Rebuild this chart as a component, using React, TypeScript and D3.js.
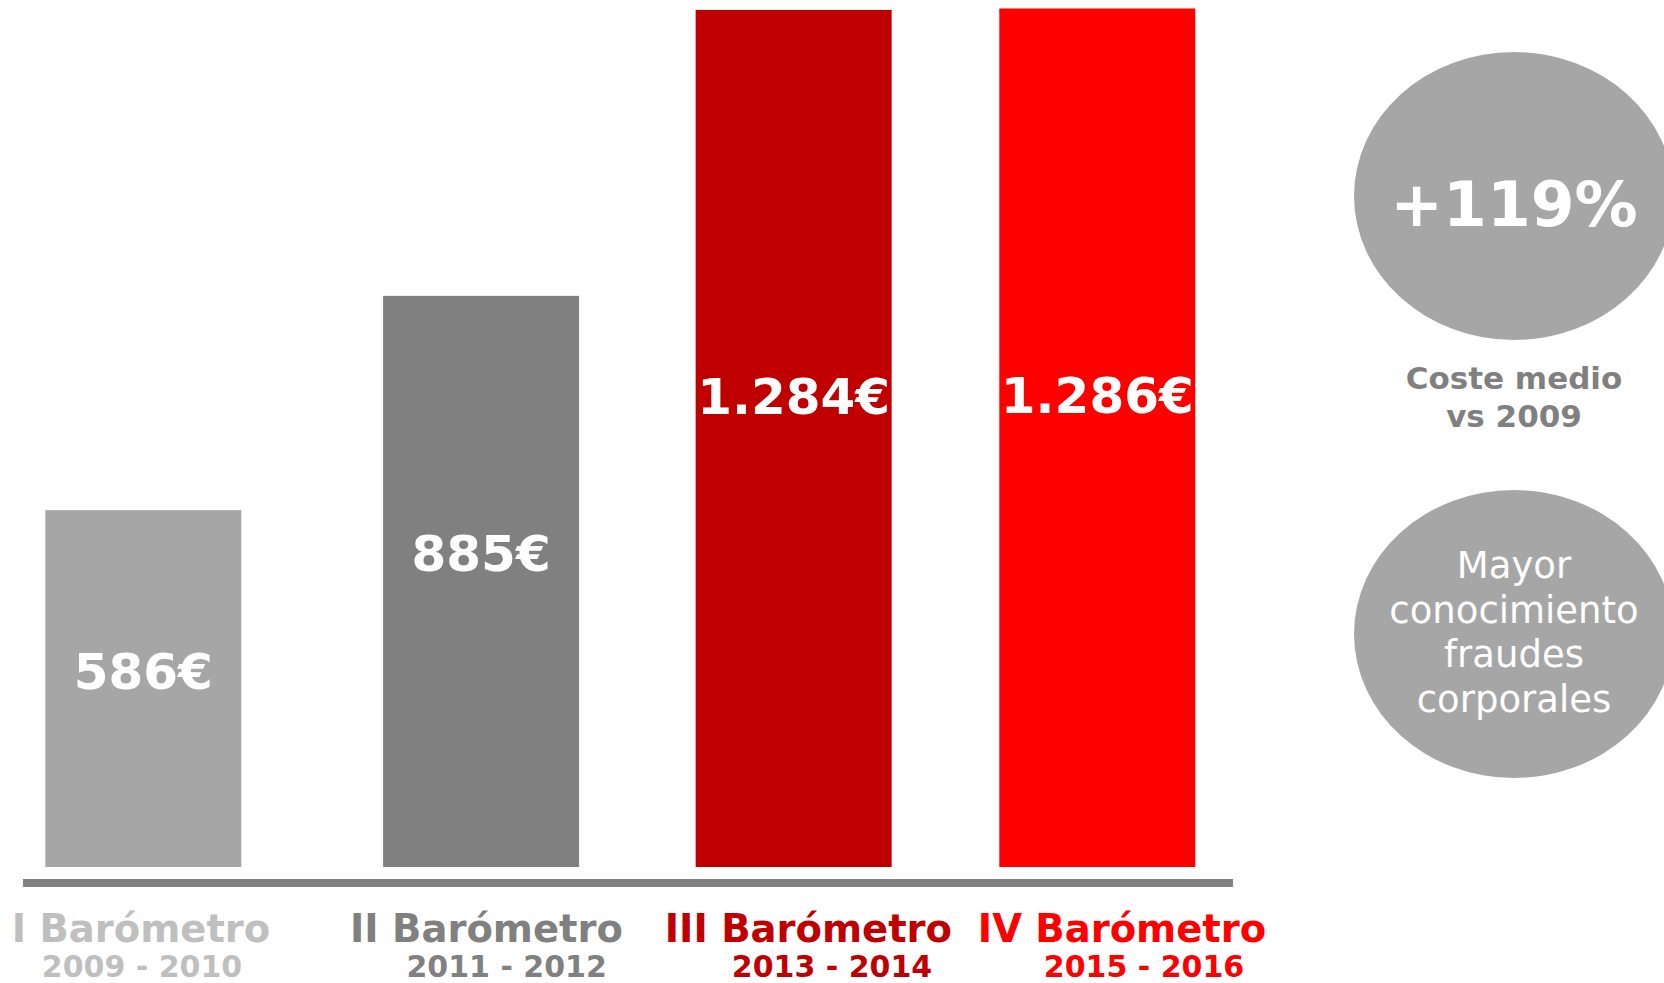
import React from "react";
import * as d3 from "d3";

const categories = ["I Barómetro", "II Barómetro", "III Barómetro", "IV Barómetro"];
const periods = ["2009 - 2010", "2011 - 2012", "2013 - 2014", "2015 - 2016"];
const values = [586, 885, 1284, 1286];
const valueLabels = ["586€", "885€", "1.284€", "1.286€"];
const barColors = ["#a6a6a6", "#808080", "#c00000", "#ff0000"];
const labelColors = ["#bfbfbf", "#808080", "#c00000", "#ff0000"];

const growthHeadline = "+119%";
const growthCaption = ["Coste medio", "vs 2009"];
const insightLines = ["Mayor", "conocimiento", "fraudes", "corporales"];

const W = 1664;
const H = 983;
const FONT = "'DejaVu Sans', Verdana, sans-serif";

export default function App() {
  const idx = d3.scaleOrdinal<string, number>().domain(categories).range(d3.range(categories.length));
  // positions along the axis (spacing narrows slightly to the right, as in the original layout)
  const barCenter = d3.scalePow().exponent(0.945).domain([0, categories.length - 1]).range([143.3, 1097.3]);
  const labelCenter = d3.scalePow().exponent(0.95).domain([0, categories.length - 1]).range([141, 1122]);
  const periodCenter = d3.scalePow().exponent(0.92).domain([0, categories.length - 1]).range([142, 1144]);
  const bw = 196;
  const y = d3.scaleLinear().domain([88, 1286]).range([867, 8.5]);

  const bubbleCx = 1514;
  const rx = 160;
  const ry = 144;
  const b1cy = 196;
  const b2cy = 634;

  return (
    <svg width={W} height={H} style={{ position: "absolute", left: 0, top: 0, background: "#fff" }} fontFamily={FONT}>
      {categories.map((c, i) => {
        const k = idx(c);
        const top = y(values[i]);
        const bottom = y(88);
        const cx = barCenter(k);
        return (
          <g key={c}>
            <rect x={cx - bw / 2} y={top} width={bw} height={bottom - top} fill={barColors[i]} />
            <text
              x={cx}
              y={top + 0.45 * (bottom - top) + 18}
              textAnchor="middle"
              fill="#fff"
              fontWeight="bold"
              fontSize={50}
            >
              {valueLabels[i]}
            </text>
            <text x={labelCenter(k)} y={942} textAnchor="middle" fill={labelColors[i]} fontWeight="bold" fontSize={38.5}>
              {c}
            </text>
            <text x={periodCenter(k)} y={977} textAnchor="middle" fill={labelColors[i]} fontWeight="bold" fontSize={30}>
              {periods[i]}
            </text>
          </g>
        );
      })}
      <rect x={23} y={879} width={1210} height={8} fill="#808080" />

      <ellipse cx={bubbleCx} cy={b1cy} rx={rx} ry={ry} fill="#a6a6a6" />
      <text x={bubbleCx} y={226} textAnchor="middle" fill="#fff" fontWeight="bold" fontSize={63}>
        {growthHeadline}
      </text>
      {growthCaption.map((t, i) => (
        <text key={t} x={bubbleCx} y={389 + i * 38} textAnchor="middle" fill="#808080" fontWeight="bold" fontSize={31}>
          {t}
        </text>
      ))}

      <ellipse cx={bubbleCx} cy={b2cy} rx={rx} ry={ry} fill="#a6a6a6" />
      {insightLines.map((t, i) => (
        <text key={t} x={bubbleCx} y={578 + i * 44.5} textAnchor="middle" fill="#fff" fontSize={37}>
          {t}
        </text>
      ))}
    </svg>
  );
}
